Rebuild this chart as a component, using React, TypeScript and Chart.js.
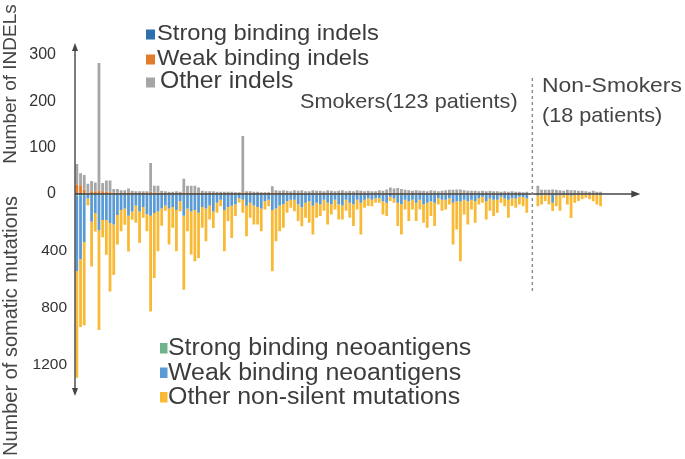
import React, { useEffect, useRef } from 'react';
import { Chart, registerables } from 'chart.js';

Chart.register(...registerables);

// ---------- data: smokers (123 patients) ----------
const smokerStrongIndels = [
  2, 2, 1, 0, 1, 0, 1, 1, 0, 0,
  0, 0, 0, 0, 1, 0, 0, 0, 0, 0,
  1, 0, 0, 0, 0, 0, 0, 0, 0, 1,
  0, 0, 0, 0, 0, 0, 0, 0, 0, 0,
  0, 0, 0, 0, 0, 1, 0, 0, 0, 0,
  0, 0, 0, 1, 0, 0, 0, 0, 0, 0,
  0, 0, 0, 0, 0, 0, 0, 0, 0, 0,
  0, 0, 0, 0, 0, 0, 0, 0, 0, 0,
  0, 0, 0, 0, 0, 1, 0, 0, 0, 0,
  0, 0, 0, 0, 0, 0, 0, 0, 0, 0,
  0, 0, 0, 0, 1, 0, 0, 0, 0, 0,
  0, 0, 0, 0, 0, 0, 0, 0, 0, 0,
  0, 0, 0,
];
const smokerWeakIndels = [
  18, 17, 8, 3, 5, 5, 6, 5, 5, 4,
  3, 3, 2, 2, 3, 2, 2, 2, 2, 2,
  4, 3, 3, 2, 2, 2, 2, 2, 2, 3,
  2, 2, 2, 2, 2, 2, 2, 2, 2, 2,
  2, 2, 2, 2, 2, 3, 2, 2, 2, 2,
  2, 2, 2, 3, 2, 2, 2, 2, 2, 2,
  2, 2, 1, 2, 2, 1, 2, 2, 1, 2,
  1, 2, 2, 1, 2, 1, 2, 2, 1, 1,
  1, 1, 2, 1, 2, 2, 2, 2, 2, 1,
  1, 2, 1, 2, 1, 1, 2, 1, 1, 1,
  1, 1, 2, 2, 2, 1, 2, 1, 2, 1,
  1, 2, 1, 1, 1, 1, 1, 1, 1, 1,
  1, 1, 1,
];
const smokerOtherIndels = [
  45, 26, 32, 19, 22, 20, 276, 18, 24, 25,
  8, 8, 6, 6, 8, 5, 4, 4, 4, 4,
  62, 15, 15, 5, 4, 3, 3, 4, 3, 29,
  16, 16, 16, 12, 5, 4, 4, 4, 3, 3,
  3, 3, 3, 2, 2, 121, 4, 4, 3, 3,
  2, 2, 2, 13, 6, 5, 6, 5, 4, 6,
  5, 6, 5, 4, 6, 6, 5, 4, 7, 5,
  5, 5, 6, 5, 5, 5, 6, 5, 5, 6,
  5, 5, 6, 6, 8, 11, 10, 11, 9, 8,
  7, 5, 7, 5, 6, 5, 6, 6, 5, 6,
  7, 8, 7, 8, 7, 7, 5, 6, 5, 5,
  6, 4, 6, 5, 5, 4, 5, 4, 5, 4,
  4, 3, 4,
];
const smokerStrongNeo = [
  10, 8, 6, 1, 4, 3, 5, 3, 3, 4,
  4, 2, 2, 2, 3, 2, 1, 2, 1, 2,
  3, 3, 2, 2, 1, 2, 1, 2, 1, 3,
  2, 2, 2, 2, 1, 2, 1, 2, 1, 1,
  2, 1, 2, 1, 0, 1, 2, 1, 1, 1,
  2, 1, 1, 3, 2, 1, 1, 1, 1, 1,
  1, 2, 1, 1, 2, 1, 1, 1, 1, 1,
  1, 1, 1, 1, 1, 1, 1, 2, 1, 0,
  1, 0, 0, 1, 1, 0, 1, 1, 2, 1,
  1, 1, 1, 1, 1, 1, 1, 1, 0, 1,
  1, 0, 2, 1, 2, 1, 1, 1, 1, 0,
  0, 1, 1, 1, 1, 0, 1, 1, 0, 1,
  0, 1, 1,
];
const smokerWeakNeo = [
  530, 450, 330, 30, 190, 130, 250, 180, 180, 200,
  210, 145, 110, 100, 150, 120, 80, 120, 90, 140,
  150, 130, 120, 100, 80, 100, 90, 110, 50, 150,
  100, 120, 110, 130, 90, 100, 80, 120, 60, 40,
  110, 90, 80, 70, 30, 40, 80, 60, 80, 90,
  100, 50, 40, 110, 100, 80, 70, 50, 40, 40,
  70, 90, 60, 50, 80, 60, 70, 40, 60, 70,
  40, 70, 80, 40, 60, 70, 40, 60, 40, 30,
  40, 30, 30, 50, 60, 20, 30, 60, 70, 40,
  50, 40, 60, 40, 70, 60, 50, 60, 30, 40,
  40, 30, 60, 50, 50, 40, 50, 40, 50, 30,
  20, 50, 30, 40, 40, 20, 30, 40, 30, 30,
  20, 20, 30,
];
const smokerOtherMut = [
  750, 475, 585, 50, 315, 130, 700, 120, 243, 480,
  354, 208, 150, 113, 250, 58, 120, 222, 76, 120,
  671, 457, 280, 120, 37, 253, 146, 290, 70, 519,
  160, 303, 360, 317, 146, 230, 98, 116, 71, 44,
  290, 99, 226, 84, 30, 91, 215, 106, 133, 123,
  160, 58, 44, 430, 230, 180, 166, 81, 56, 80,
  119, 134, 106, 150, 203, 106, 84, 77, 153, 73,
  68, 108, 98, 77, 106, 154, 68, 223, 56, 54,
  44, 31, 31, 93, 94, 29, 31, 164, 213, 68,
  139, 68, 129, 68, 131, 176, 104, 164, 43, 77,
  68, 43, 293, 198, 420, 103, 163, 68, 151, 43,
  41, 128, 87, 114, 91, 41, 54, 126, 54, 66,
  53, 64, 101,
];

// ---------- data: non-smokers (18 patients) ----------
const nsStrongIndels = [0, 0, 0, 0, 0, 0, 0, 0, 0, 0, 0, 0, 0, 0, 0, 0, 0, 0];
const nsWeakIndels = [1, 1, 1, 1, 1, 1, 1, 0, 1, 1, 1, 0, 1, 1, 0, 1, 0, 1];
const nsOtherIndels = [17, 8, 8, 8, 9, 8, 7, 7, 8, 7, 7, 7, 6, 5, 5, 6, 5, 4];
const nsStrongNeo = [1, 1, 0, 1, 2, 1, 1, 0, 1, 2, 1, 0, 0, 0, 0, 1, 1, 1];
const nsWeakNeo = [10, 8, 5, 8, 60, 10, 8, 3, 6, 10, 5, 4, 3, 2, 3, 4, 6, 8];
const nsOtherMut = [74, 65, 44, 65, 57, 74, 109, 23, 67, 156, 56, 45, 34, 24, 34, 45, 67, 76];

// ---------- axes ----------
const indelTicks = [0, 100, 200, 300];
const mutationTicks = [400, 800, 1200];
const indelMax = 326;
const mutationMax = 1418;

const GAP_SLOTS = 2;
const TAIL_SLOTS = 10;

const FONT = '"Liberation Sans", Arial, Helvetica, sans-serif';

const smokerIds = smokerOtherMut.map((_, i) => `Smoker ${i + 1}`);
const nonSmokerIds = nsOtherMut.map((_, i) => `Non-smoker ${i + 1}`);
const gapIds = Array.from({ length: GAP_SLOTS }, (_, i) => `gap${i}`);
const tailIds = Array.from({ length: TAIL_SLOTS }, (_, i) => `tail${i}`);
const categories = [...smokerIds, ...gapIds, ...nonSmokerIds, ...tailIds];

const pad = (s: number[], n: number[]) => [
  ...s,
  ...gapIds.map(() => null),
  ...n,
  ...tailIds.map(() => null),
];

function drawText(
  ctx: CanvasRenderingContext2D,
  text: string,
  x: number,
  y: number,
  size: number,
  sx: number,
  color: string,
  align: CanvasTextAlign = 'left'
) {
  ctx.save();
  ctx.font = `${size}px ${FONT}`;
  ctx.fillStyle = color;
  ctx.textAlign = align;
  ctx.textBaseline = 'alphabetic';
  ctx.translate(x, y);
  ctx.scale(sx, 1);
  ctx.fillText(text, 0, 0);
  ctx.restore();
}

const overlayPlugin = {
  id: 'overlay',
  afterDraw(chart: any) {
    const { ctx, chartArea, scales } = chart;
    const xS = scales.x;
    const yI = scales.yI;
    const left = chartArea.left;
    const zeroY = yI.getPixelForValue(0);
    const axisColor = '#444444';
    ctx.save();

    // vertical axis with arrows
    ctx.strokeStyle = axisColor;
    ctx.fillStyle = axisColor;
    ctx.lineWidth = 1.4;
    ctx.beginPath();
    ctx.moveTo(left, chartArea.top + 5);
    ctx.lineTo(left, chartArea.bottom - 5);
    ctx.stroke();
    ctx.beginPath();
    ctx.moveTo(left, chartArea.top);
    ctx.lineTo(left - 3, chartArea.top + 8);
    ctx.lineTo(left + 3, chartArea.top + 8);
    ctx.closePath();
    ctx.fill();
    ctx.beginPath();
    ctx.moveTo(left, chartArea.bottom);
    ctx.lineTo(left - 3, chartArea.bottom - 8);
    ctx.lineTo(left + 3, chartArea.bottom - 8);
    ctx.closePath();
    ctx.fill();

    // horizontal zero axis with arrow
    const tipX = chartArea.right + 1;
    ctx.beginPath();
    ctx.moveTo(left, zeroY);
    ctx.lineTo(tipX - 6, zeroY);
    ctx.stroke();
    ctx.beginPath();
    ctx.moveTo(tipX, zeroY);
    ctx.lineTo(tipX - 9, zeroY - 3.5);
    ctx.lineTo(tipX - 9, zeroY + 3.5);
    ctx.closePath();
    ctx.fill();

    // dashed separator between smokers and non-smokers
    const sepX =
      (xS.getPixelForValue(smokerIds.length - 1) +
        xS.getPixelForValue(smokerIds.length + GAP_SLOTS)) / 2;
    ctx.strokeStyle = '#8a8a8a';
    ctx.lineWidth = 1.4;
    ctx.setLineDash([3, 3]);
    ctx.beginPath();
    ctx.moveTo(sepX, 78);
    ctx.lineTo(sepX, 293);
    ctx.stroke();
    ctx.setLineDash([]);

    // group labels
    const tc = '#444444';
    drawText(ctx, 'Smokers(123 patients)', 300, 108, 21, 1.03, tc);
    drawText(ctx, 'Non-Smokers', 542, 92, 21, 1.09, tc);
    drawText(ctx, '(18 patients)', 542, 122, 21, 1.03, tc);

    // y titles
    const titleColor = '#454545';
    ctx.save();
    ctx.translate(11, 84);
    ctx.rotate(-Math.PI / 2);
    ctx.font = `19px ${FONT}`;
    ctx.fillStyle = titleColor;
    ctx.textAlign = 'center';
    ctx.textBaseline = 'middle';
    ctx.fillText('Number of INDELs', 0, 0);
    ctx.restore();
    ctx.save();
    ctx.translate(11, 326);
    ctx.rotate(-Math.PI / 2);
    ctx.font = `20px ${FONT}`;
    ctx.fillStyle = titleColor;
    ctx.textAlign = 'center';
    ctx.textBaseline = 'middle';
    ctx.fillText('Number of somatic mutations', 0, 0);
    ctx.restore();

    // legends
    const ds = chart.data.datasets;
    const upperBase = [40, 65, 88];
    const upperSize = [22, 22, 24];
    const upperStretch = [1.08, 1.08, 1.03];
    for (let k = 0; k < 3; k++) {
      ctx.fillStyle = ds[k].backgroundColor;
      ctx.fillRect(146, upperBase[k] - 10.5, 9, 10);
      drawText(ctx, ds[k].label, k === 2 ? 160 : 157, upperBase[k], upperSize[k], upperStretch[k], '#3c3c3c');
    }
    const lowerBase = [355, 379.5, 404];
    for (let k = 0; k < 3; k++) {
      ctx.fillStyle = ds[k + 3].backgroundColor;
      ctx.fillRect(160, lowerBase[k] - 12, 7.5, 10.5);
      drawText(ctx, ds[k + 3].label, 168, lowerBase[k], 23.5, 1.06, '#3c3c3c');
    }

    ctx.restore();
  },
};

export default function App() {
  const canvasRef = useRef<HTMLCanvasElement | null>(null);

  useEffect(() => {
    if (!canvasRef.current) return;
    const common = {
      stack: 'all',
      barPercentage: 0.75,
      categoryPercentage: 1,
      borderWidth: 0,
    };
    const chart = new Chart(canvasRef.current, {
      type: 'bar',
      data: {
        labels: categories,
        datasets: [
          { ...common, label: 'Strong binding indels', data: pad(smokerStrongIndels, nsStrongIndels), backgroundColor: '#2e6fb0', yAxisID: 'yI' },
          { ...common, label: 'Weak binding indels', data: pad(smokerWeakIndels, nsWeakIndels), backgroundColor: '#e27b2b', yAxisID: 'yI' },
          { ...common, label: 'Other indels', data: pad(smokerOtherIndels, nsOtherIndels), backgroundColor: '#a6a6a6', yAxisID: 'yI' },
          { ...common, label: 'Strong binding neoantigens', data: pad(smokerStrongNeo, nsStrongNeo), backgroundColor: '#6db48a', yAxisID: 'yM' },
          { ...common, label: 'Weak binding neoantigens', data: pad(smokerWeakNeo, nsWeakNeo), backgroundColor: '#5b9bd5', yAxisID: 'yM' },
          { ...common, label: 'Other non-silent mutations', data: pad(smokerOtherMut, nsOtherMut), backgroundColor: '#f8b935', yAxisID: 'yM' },
        ] as any,
      },
      options: {
        animation: false,
        responsive: true,
        maintainAspectRatio: false,
        layout: { padding: { left: 0, right: 45.7, top: 43, bottom: 63 } },
        plugins: {
          legend: { display: false },
          tooltip: { enabled: false },
        },
        scales: {
          x: {
            type: 'category',
            stacked: true,
            display: false,
            offset: true,
          },
          yI: {
            type: 'linear',
            position: 'left',
            stack: 'v',
            stackWeight: indelMax * 0.4633,
            weight: 2,
            stacked: true,
            min: 0,
            max: indelMax,
            grid: { display: false, drawTicks: false },
            border: { display: false },
            ticks: {
              padding: 19,
              color: '#333333',
              font: { family: FONT, size: 16 },
              callback: (v: any) => String(v),
            },
            afterBuildTicks: (axis: any) => {
              axis.ticks = indelTicks.map((v) => ({ value: v }));
            },
            afterFit: (axis: any) => {
              axis.width = 75;
            },
          },
          yM: {
            type: 'linear',
            position: 'left',
            stack: 'v',
            stackWeight: mutationMax * 0.14245,
            weight: 1,
            stacked: true,
            reverse: true,
            min: 0,
            max: mutationMax,
            grid: { display: false, drawTicks: false },
            border: { display: false },
            ticks: {
              padding: 8,
              color: '#333333',
              font: { family: FONT, size: 15.5 },
              callback: (v: any) => String(v),
            },
            afterBuildTicks: (axis: any) => {
              axis.ticks = mutationTicks.map((v) => ({ value: v }));
            },
            afterFit: (axis: any) => {
              axis.width = 75;
            },
          },
        } as any,
      },
      plugins: [overlayPlugin],
    });
    return () => chart.destroy();
  }, []);

  return (
    <div style={{ position: 'fixed', left: 0, top: 0, width: 685, height: 459, background: '#ffffff' }}>
      <canvas ref={canvasRef} />
    </div>
  );
}
